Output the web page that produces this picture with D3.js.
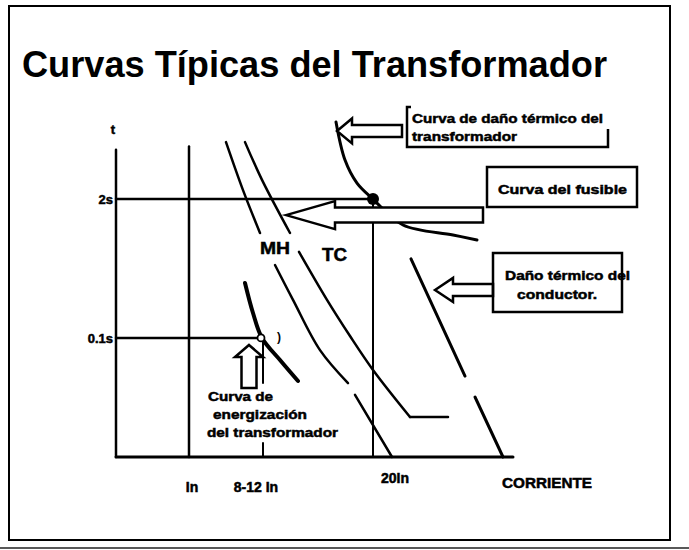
<!DOCTYPE html>
<html><head><meta charset="utf-8">
<script src="https://cdn.jsdelivr.net/npm/d3@7"></script>
<style>
html,body{margin:0;padding:0;background:#fff;}
svg{display:block;}
text{font-family:"Liberation Sans",Arial,sans-serif;font-weight:bold;fill:#000;}
text.lbl{stroke:#000;stroke-width:0.5;}
</style></head><body>
<svg id="c" width="689" height="550"></svg>
<script>
// ---- data (abstract units: current axis 0..100, time axis 0..100) ----
const xTickLabels = ["In", "8-12 In", "20In"];
const xTickValues = [18.25, 36.75, 64.25];
const yTickLabels = ["2s", "0.1s"];
const yTickValues = [80.6, 37.2];

const curveMH_1 = [[27.5, 98.4], [31.75, 83.4], [36, 70]];
const curveMH_2 = [[39.75, 60], [44.25, 49.1], [51, 33.4], [58, 23.1]];
const curveMH_3 = [[59.75, 19.4], [69, 0]];
const curveTC_1 = [[32.25, 98.4], [36.5, 86.6], [43.5, 70]];
const curveTC_2 = [[45.75, 64.1], [52.75, 49.1], [58.5, 37.8], [64.25, 27.2], [73.5, 12.5]];
const curveTC_3 = [[73.5, 12.5], [83, 12.5]];
const trafoDamage = [[55, 104.7], [57.25, 92.8], [60.25, 85.6], [64.25, 80.6], [71.75, 72.5], [84.25, 69.4], [90.25, 67.8]];
const conductor_1 = [[73.75, 61.9], [87.25, 25.3]];
const conductor_2 = [[89.75, 18.75], [96.75, 0]];
const energization = [[32.25, 54.4], [34.25, 45], [36.5, 37.2], [41, 30.3], [45.5, 23.75]];
const fusePoint = [64.25, 80.6];
const inrushPoint = [36.25, 37.2];

// ---- drawing ----
const svg = d3.select("#c");
const x = d3.scaleLinear().domain([0, 100]).range([116, 516]);
const y = d3.scaleLinear().domain([0, 100]).range([457, 137]);
const smooth = d3.line().x(d => x(d[0])).y(d => y(d[1])).curve(d3.curveCatmullRom.alpha(0.5));
const straight = d3.line().x(d => x(d[0])).y(d => y(d[1]));

svg.append("rect").attr("width", 689).attr("height", 550).attr("fill", "#fff");
// frame
svg.append("rect").attr("x", 9).attr("y", 6).attr("width", 661).attr("height", 534)
  .attr("fill", "none").attr("stroke", "#000").attr("stroke-width", 2);
svg.append("line").attr("x1", 0).attr("x2", 689).attr("y1", 548).attr("y2", 548)
  .attr("stroke", "#222").attr("stroke-width", 1.5);

// title
svg.append("text").attr("x", 22).attr("y", 77).attr("font-size", 36)
  .attr("textLength", 585).attr("lengthAdjust", "spacingAndGlyphs")
  .text("Curvas Típicas del Transformador");

const g = svg.append("g").attr("stroke", "#000").attr("fill", "none").attr("stroke-linecap", "round");

// axes
g.append("line").attr("x1", x(0)).attr("x2", x(0)).attr("y1", y(0)).attr("y2", y(96)).attr("stroke-width", 2.5);
g.append("line").attr("x1", x(0)).attr("x2", x(99.25)).attr("y1", y(0)).attr("y2", y(0)).attr("stroke-width", 3);
// In vertical
g.append("line").attr("x1", x(xTickValues[0])).attr("x2", x(xTickValues[0])).attr("y1", y(0)).attr("y2", y(97)).attr("stroke-width", 2.5);
// 20In vertical
g.append("line").attr("x1", x(xTickValues[2])).attr("x2", x(xTickValues[2])).attr("y1", y(0)).attr("y2", y(fusePoint[1])).attr("stroke-width", 2);
// 8-12In tick and thin line
g.append("line").attr("x1", x(xTickValues[1])).attr("x2", x(xTickValues[1])).attr("y1", y(0)).attr("y2", y(4.4)).attr("stroke-width", 2);
g.append("line").attr("x1", x(xTickValues[1])).attr("x2", x(xTickValues[1])).attr("y1", y(36.9)).attr("y2", y(23.1)).attr("stroke-width", 2);
// 2s and 0.1s horizontal lines
g.append("line").attr("x1", x(0)).attr("x2", x(fusePoint[0])).attr("y1", y(yTickValues[0])).attr("y2", y(yTickValues[0])).attr("stroke-width", 2.5);
g.append("line").attr("x1", x(0)).attr("x2", x(inrushPoint[0])).attr("y1", y(yTickValues[1])).attr("y2", y(yTickValues[1])).attr("stroke-width", 2.5);

// curves
[curveMH_1, curveMH_2, curveTC_1, curveTC_2].forEach(c =>
  g.append("path").attr("d", smooth(c)).attr("stroke-width", 2.5));
[curveMH_3, curveTC_3].forEach(c =>
  g.append("path").attr("d", straight(c)).attr("stroke-width", 2.5));
[conductor_1, conductor_2].forEach(c =>
  g.append("path").attr("d", straight(c)).attr("stroke-width", 3));
g.append("path").attr("d", smooth(trafoDamage)).attr("stroke-width", 3);
g.append("path").attr("d", smooth(energization)).attr("stroke-width", 4);

// arrows
function leftArrow(tx, ty, hl, hh, sh, ex) {
  return `M${tx},${ty} L${tx + hl},${ty - hh} L${tx + hl},${ty - sh} L${ex},${ty - sh} L${ex},${ty + sh} L${tx + hl},${ty + sh} L${tx + hl},${ty + hh} Z`;
}
function upArrow(tx, ty, hl, hh, sh, ey) {
  return `M${tx},${ty} L${tx + hh},${ty + hl} L${tx + sh},${ty + hl} L${tx + sh},${ey} L${tx - sh},${ey} L${tx - sh},${ty + hl} L${tx - hh},${ty + hl} Z`;
}
const arrows = svg.append("g").attr("stroke", "#000").attr("fill", "#fff").attr("stroke-width", 2.5).attr("stroke-linejoin", "miter");
arrows.append("path").attr("d", leftArrow(x(42.5), y(75.6), 49, 14, 7.5, x(91.75)));
arrows.append("path").attr("d", leftArrow(x(55.25), y(101.9), 15, 12.5, 6, x(71.5)));
arrows.append("path").attr("d", leftArrow(x(79.75), y(52.2), 18, 12, 6, x(94.25)));
arrows.append("path").attr("d", upArrow(x(33.25), y(35), 12, 14, 7.5, y(21.6)));

// points
svg.append("circle").attr("cx", x(fusePoint[0])).attr("cy", y(fusePoint[1])).attr("r", 6).attr("fill", "#000");
svg.append("circle").attr("cx", x(inrushPoint[0])).attr("cy", y(inrushPoint[1])).attr("r", 3.5)
  .attr("fill", "#fff").attr("stroke", "#000").attr("stroke-width", 1.8);
svg.append("text").attr("x", 277).attr("y", 341).attr("font-size", 12).text(")");

// boxes
const boxes = svg.append("g").attr("stroke", "#000").attr("fill", "none").attr("stroke-width", 2.5);
boxes.append("path").attr("d", "M411,107 L407,107 L407,147 L608,147 L608,129");
boxes.append("rect").attr("x", 487).attr("y", 167).attr("width", 150).attr("height", 40);
boxes.append("rect").attr("x", 493).attr("y", 253).attr("width", 129).attr("height", 59);

function label(tx, ty, s, size, anchor, len) {
  const t = svg.append("text").attr("class", "lbl").attr("x", tx).attr("y", ty).attr("font-size", size)
    .attr("text-anchor", anchor || "start").text(s);
  if (len) t.attr("textLength", len).attr("lengthAdjust", "spacingAndGlyphs");
  return t;
}
label(412, 123, "Curva de daño térmico  del", 13, "start", 191);
label(412, 141, "transformador", 13, "start", 105);
label(498, 194, "Curva  del fusible", 13, "start", 129);
label(505, 280, "Daño térmico del", 13, "start", 125);
label(517, 299, "conductor.", 13, "start", 80);
label(208, 401, "Curva de", 13, "start", 65);
label(213, 419, "energización", 13, "start", 94);
label(207, 437, "del transformador", 13, "start", 131);
label(260, 254, "MH", 16, "start", 30);
label(322, 261, "TC", 18, "start", 25);

// axis labels
label(113, 134, "t", 13, "middle");
yTickLabels.forEach((s, i) => label(113, y(yTickValues[i]) + 5, s, 13, "end"));
const xLabelDx = [3, -7, 22];
const xLabelY = [492, 492, 483];
xTickLabels.forEach((s, i) => label(x(xTickValues[i]) + xLabelDx[i], xLabelY[i], s, 14, "middle"));
label(502, 488, "CORRIENTE", 14, "start", 90);
</script>
</body></html>
